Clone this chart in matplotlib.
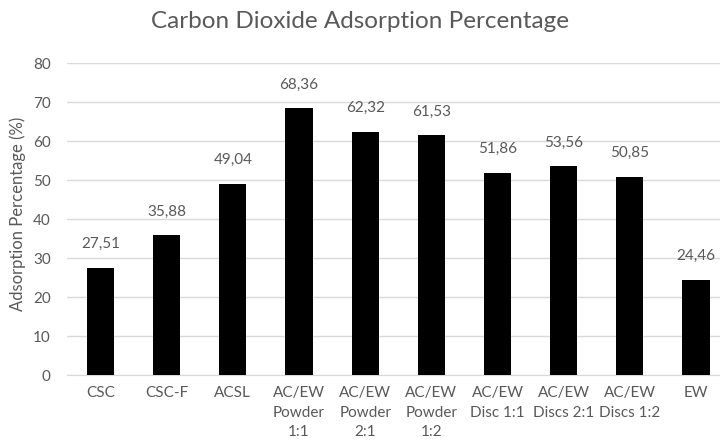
# CO2 adsorption percentage per sample -> out.png
import matplotlib.pyplot as plt

samples = ["CSC", "CSC-F", "ACSL", "AC/EW\nPowder\n1:1", "AC/EW\nPowder\n2:1",
           "AC/EW\nPowder\n1:2", "AC/EW\nDisc 1:1", "AC/EW\nDiscs 2:1",
           "AC/EW\nDiscs 1:2", "EW"]
adsorption = [27.51, 35.88, 49.04, 68.36, 62.32, 61.53, 51.86, 53.56, 50.85, 24.46]
yticks = [0, 10, 20, 30, 40, 50, 60, 70, 80]

grey = "#595959"
plt.rcParams["font.family"] = ["Lato", "DejaVu Sans"]

fig = plt.figure(figsize=(7.2, 4.47), dpi=100)
ax = fig.add_axes([0.0936, 0.161, 0.919, 0.698])

x = range(len(samples))
ax.bar(x, adsorption, width=0.41, color="black", zorder=3)
for xi, v in zip(x, adsorption):
    ax.annotate(f"{v:.2f}".replace(".", ","), (xi, v), xytext=(0, 12),
                textcoords="offset points", ha="center", va="bottom",
                fontsize=11, color=grey)

ax.set_xlim(-0.5, len(samples) - 0.5)
ax.set_ylim(0, 80)
ax.set_yticks(yticks)
ax.set_xticks(list(x))
ax.set_xticklabels(samples, fontsize=11, color=grey, linespacing=1.5)
ax.tick_params(axis="y", labelsize=11, labelcolor=grey, length=0, pad=12)
ax.tick_params(axis="x", length=0, pad=8)
ax.grid(axis="y", color="#d9d9d9", lw=1, zorder=0)
for s in ["top", "right", "left"]:
    ax.spines[s].set_visible(False)
ax.spines["bottom"].set_color("#d9d9d9")

ax.set_ylabel("Adsorption Percentage (%)", fontsize=12, color=grey)
ax.yaxis.set_label_coords(-0.063, 0.515)
fig.text(0.5, 0.953, "Carbon Dioxide Adsorption Percentage", ha="center",
         va="center", fontsize=17.5, color=grey)

fig.savefig("out.png", dpi=100)
